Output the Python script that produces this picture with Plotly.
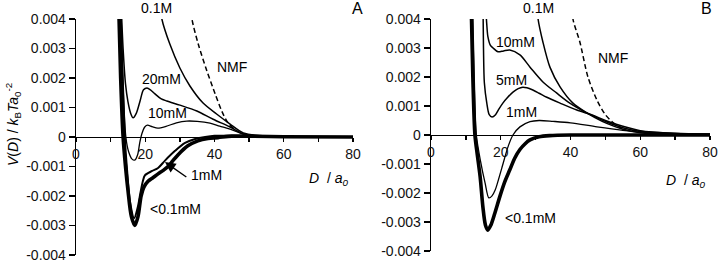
import plotly.graph_objects as go

W, H = 727, 272

# ---------------- Panel A data ----------------
A_lt01_x = [12.3, 12.9, 13.6, 14.3, 15.0, 16.0, 17.0, 17.9, 18.8, 19.6, 20.8, 22.2, 23.7, 25.2, 26.6, 28.0, 29.5, 32.3, 35.2, 38.1, 41, 45, 50, 60, 80]
A_lt01_y = [0.0046, 0.002, 0.0, -0.001, -0.0018, -0.0027, -0.003, -0.0027, -0.002, -0.0017, -0.0015, -0.00138, -0.00125, -0.00113, -0.001, -0.0008, -0.0006, -0.0003, -0.00013, -0.00005, -0.00002, 0.00003, 0.00003, 0.00001, 0.0]

A_1mM_x = [12.8, 13.5, 14.1, 14.8, 15.6, 16.8, 17.8, 18.6, 19.3, 19.9, 22.0, 23.7, 25.7, 28.6, 31.5, 34.4, 37.3, 40, 45, 55, 80]
A_1mM_y = [0.0046, 0.002, 0.0, -0.0012, -0.0022, -0.00275, -0.0024, -0.0019, -0.0015, -0.0013, -0.00115, -0.00105, -0.0008, -0.00047, -0.0002, -0.00007, 0.0, 0.00004, 0.00004, 0.00002, 0.0]

A_10mM_x = [12.8, 13.5, 14.4, 15.2, 16.2, 17.0, 17.8, 18.4, 19.0, 19.8, 20.6, 22.0, 23.6, 26, 29, 32, 35, 38.7, 41.5, 44.5, 48.3, 52, 60, 80]
A_10mM_y = [0.0046, 0.002, 0.0, -0.0005, -0.00075, -0.00078, -0.0006, -0.0002, 0.0001, 0.00033, 0.0004, 0.00035, 0.0003, 0.00036, 0.00048, 0.00054, 0.00053, 0.00047, 0.00037, 0.00027, 0.0001, 0.00004, 0.00001, 0.0]

A_20mM_x = [13.0, 13.6, 14.3, 15.0, 15.8, 16.5, 17.4, 18.5, 19.5, 20.5, 21.5, 22.8, 24.5, 26.2, 30.0, 34.9, 39.6, 44.5, 48.3, 52, 60, 80]
A_20mM_y = [0.0046, 0.003, 0.0018, 0.0012, 0.0008, 0.00065, 0.0008, 0.00122, 0.0016, 0.00166, 0.0016, 0.00146, 0.0013, 0.00122, 0.00108, 0.00088, 0.0006, 0.00034, 0.0001, 0.00004, 0.00001, 0.0]

A_01M_x = [24.3, 24.8, 27.1, 30.0, 32.9, 36.7, 40.6, 44.5, 48.3, 55, 80]
A_01M_y = [0.0045, 0.004, 0.00315, 0.00234, 0.00173, 0.00115, 0.00078, 0.00044, 0.00014, 0.00003, 0.0]

A_nmf_x = [33.2, 33.5, 35.3, 37.8, 40.2, 42.1, 43.9, 46.5, 50, 55]
A_nmf_y = [0.0045, 0.004, 0.00315, 0.00224, 0.00146, 0.00088, 0.00048, 0.0002, 0.00006, 0.00001]

# ---------------- Panel B data ----------------
B_lt01_x = [11.5, 12.0, 12.6, 13.3, 14.1, 14.9, 15.6, 16.3, 17.2, 18.3, 19.8, 21.2, 22.6, 24.0, 25.5, 27.0, 28.4, 31, 34, 40, 80]
B_lt01_y = [0.0046, 0.002, 0.0, -0.0007, -0.00145, -0.0025, -0.0031, -0.00328, -0.0031, -0.0027, -0.0021, -0.0016, -0.0012, -0.0008, -0.0005, -0.0003, -0.00017, -0.00006, -0.00002, 0.0, 0.0]

B_1mM_x = [11.9, 12.4, 13.0, 14.2, 15.5, 16.6, 17.5, 18.4, 20.3, 22.1, 23.5, 25.5, 28.4, 31, 35, 40, 47.6, 55, 60, 70, 80]
B_1mM_y = [0.0046, 0.002, 0.0, -0.0009, -0.00165, -0.00217, -0.0021, -0.0019, -0.00114, -0.0004, 0.0, 0.00028, 0.00046, 0.0005, 0.00047, 0.00042, 0.00028, 0.00016, 0.0001, 0.00005, 0.00003]

B_5mM_x = [14.9, 15.05, 15.3, 16.0, 16.7, 17.5, 18.5, 19.5, 20.6, 22.0, 23.5, 25.0, 26.3, 27.5, 29.2, 31, 33.2, 37, 41.8, 46.4, 50, 55, 60, 70, 80]
B_5mM_y = [0.0046, 0.003, 0.0018, 0.0011, 0.0007, 0.00062, 0.0007, 0.0009, 0.0011, 0.0013, 0.00148, 0.0016, 0.00165, 0.00163, 0.00155, 0.00144, 0.0013, 0.0011, 0.00086, 0.00068, 0.0005, 0.0003, 0.00015, 0.00006, 0.00003]

B_10mM_x = [15.6, 16.0, 16.3, 17.0, 17.8, 19.2, 20.8, 22.6, 25.5, 28.4, 32.1, 36, 39.8, 44.7, 47, 50.4, 55, 60, 70, 80]
B_10mM_y = [0.0046, 0.0038, 0.0034, 0.0031, 0.003, 0.00287, 0.0029, 0.00293, 0.00276, 0.00234, 0.00183, 0.00145, 0.0011, 0.00076, 0.00063, 0.00045, 0.00025, 0.00012, 0.00005, 0.00003]

B_01M_x = [30.4, 30.7, 32.1, 34.1, 37, 40.7, 44.7, 47, 50.4, 55, 60, 70, 80]
B_01M_y = [0.0046, 0.004, 0.0032, 0.00234, 0.00166, 0.0011, 0.00076, 0.0006, 0.0004, 0.0002, 0.00008, 0.00002, 0.0]

B_nmf_x = [40.5, 40.7, 42.7, 45.0, 47.6, 50, 52, 54, 56]
B_nmf_y = [0.0046, 0.004, 0.0032, 0.002, 0.0012, 0.0007, 0.00045, 0.00028, 0.00016]

x_tickvals = [0, 10, 20, 30, 40, 50, 60, 70, 80]
x_ticktext = ["0", "", "20", "", "40", "", "60", "", "80"]
y_tickvals = [-0.004, -0.003, -0.002, -0.001, 0, 0.001, 0.002, 0.003, 0.004]
y_ticktext = ["-0.004", "-0.003", "-0.002", "-0.001", "0", "0.001", "0.002", "0.003", "0.004"]

FONT = "Liberation Sans, Arial, sans-serif"
BLACK = "#000000"

fig = go.Figure()

def add(x, y, w, xa, ya, dash="solid"):
    fig.add_trace(go.Scatter(x=x, y=y, mode="lines", xaxis=xa, yaxis=ya,
                             line=dict(color=BLACK, width=w, dash=dash, shape="spline", smoothing=0.8),
                             showlegend=False, hoverinfo="skip"))

# Panel A
add(A_01M_x, A_01M_y, 1.5, "x", "y")
add(A_nmf_x, A_nmf_y, 1.5, "x", "y", dash="5px,3px")
add(A_20mM_x, A_20mM_y, 1.5, "x", "y")
add(A_10mM_x, A_10mM_y, 1.3, "x", "y")
add(A_1mM_x, A_1mM_y, 2.0, "x", "y")
add(A_lt01_x, A_lt01_y, 3.6, "x", "y")
# Panel B
add(B_01M_x, B_01M_y, 1.5, "x2", "y2")
add(B_nmf_x, B_nmf_y, 1.5, "x2", "y2", dash="5px,3px")
add(B_10mM_x, B_10mM_y, 1.5, "x2", "y2")
add(B_5mM_x, B_5mM_y, 1.5, "x2", "y2")
add(B_1mM_x, B_1mM_y, 1.3, "x2", "y2")
add(B_lt01_x, B_lt01_y, 3.6, "x2", "y2")

def px(x):
    return x / W

def py(y):
    return 1 - y / H

xA = [76, 353]
xB = [431, 710]
yTop = 19
yBotA, yBotB = 255, 251

common_x = dict(range=[0, 80], tickmode="array", tickvals=x_tickvals, ticktext=x_ticktext,
                showgrid=False, zeroline=False, showline=True, linecolor=BLACK, linewidth=1.3,
                ticks="outside", ticklen=4, tickcolor=BLACK, tickwidth=1.3, automargin=False,
                tickfont=dict(family=FONT, size=14, color="#111"), anchor="free", fixedrange=True)
common_y = dict(range=[-0.004, 0.004], tickmode="array", tickvals=y_tickvals, ticktext=y_ticktext,
                showgrid=False, zeroline=False, showline=True, linecolor=BLACK, linewidth=1.3,
                ticks="outside", ticklen=6, tickcolor=BLACK, tickwidth=1.3, automargin=False,
                tickfont=dict(family=FONT, size=14, color="#111"), fixedrange=True)

dA = [py(yBotA), py(yTop)]
dB = [py(yBotB), py(yTop)]
fig.update_layout(
    width=W, height=H, margin=dict(l=0, r=0, t=0, b=0, autoexpand=False),
    paper_bgcolor="white", plot_bgcolor="white",
    font=dict(family=FONT, size=14, color=BLACK),
    xaxis=dict(common_x, domain=[px(xA[0]), px(xA[1])], position=(dA[0] + dA[1]) / 2),
    yaxis=dict(common_y, domain=dA, anchor="x"),
    xaxis2=dict(common_x, domain=[px(xB[0]), px(xB[1])], position=(dB[0] + dB[1]) / 2),
    yaxis2=dict(common_y, domain=dB, anchor="x2"),
)

def label(text, x, y, size=14, angle=0):
    fig.add_annotation(text=text, x=px(x), y=py(y), xref="paper", yref="paper",
                       showarrow=False, xanchor="center", yanchor="middle",
                       textangle=angle, font=dict(family=FONT, size=size, color=BLACK))

# Panel A labels
label("0.1M", 156, 8)
label("NMF", 232, 67)
label("20mM", 161, 79)
label("10mM", 167, 113)
label("&lt;0.1mM", 175, 209)
label("1mM", 206, 175)
label("A", 357, 9, size=16)
label("<i>D</i>  / <i>a<sub>0</sub></i>", 328, 179)
# Panel B labels
label("0.1M", 538, 8)
label("NMF", 613, 58)
label("10mM", 515, 42)
label("5mM", 511, 80)
label("1mM", 521, 112)
label("&lt;0.1mM", 530, 218)
label("B", 706, 9, size=16)
label("<i>D</i>  / <i>a<sub>0</sub></i>", 685, 181)
# Y title
label("<i>V</i>(<i>D</i>) / <i>k</i><sub>B</sub><i>Ta</i><sub>0</sub><sup>-2</sup>", 13, 125, angle=-90)

# Arrow for 1mM in panel A
fig.add_annotation(x=25.7, y=-0.00085, ax=32.3, ay=-0.00139, xref="x", yref="y", axref="x", ayref="y",
                   text="", showarrow=True, arrowhead=2, arrowsize=1.5, arrowwidth=1.4, arrowcolor=BLACK)

fig.write_html("out.html", config={"displayModeBar": False, "staticPlot": True},
               post_script="document.body.style.margin='0';document.body.style.overflow='hidden';")
